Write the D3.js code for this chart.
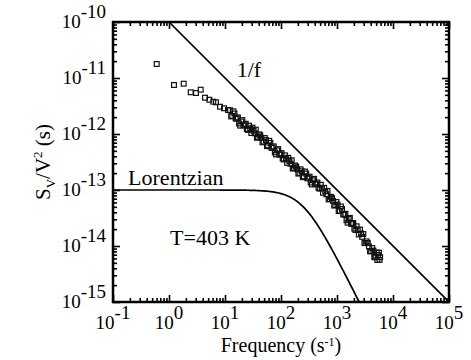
<!DOCTYPE html>
<html>
<head>
<meta charset="utf-8">
<script src="https://cdn.jsdelivr.net/npm/d3@7"></script>
<style>
  body { margin: 0; background: #fff; }
</style>
</head>
<body>
<div id="chart"></div>
<script>
const freqExp = [
  // sparse low-frequency points
  -0.22, 0.089, 0.262, 0.388, 0.482, 0.566, 0.643, 0.72, 0.791, 0.839,
  0.911, 0.982, 1.054,
  // dense trail, first sweep
  1.09, 1.13, 1.17, 1.21, 1.25, 1.29, 1.33, 1.37, 1.41, 1.45,
  1.49, 1.53, 1.57, 1.61, 1.65, 1.69, 1.73, 1.77, 1.81, 1.85,
  1.89, 1.93, 1.97, 2.01, 2.05, 2.09, 2.13, 2.17, 2.21, 2.25,
  2.29, 2.33, 2.37, 2.41, 2.45, 2.49, 2.53, 2.57, 2.61, 2.65,
  2.69, 2.73, 2.77, 2.81, 2.85, 2.89, 2.93, 2.97, 3.01, 3.05,
  3.09, 3.13, 3.17, 3.21, 3.25, 3.29, 3.33, 3.37, 3.41, 3.45,
  3.49, 3.53, 3.57, 3.61, 3.65, 3.69, 3.73, 3.76,
  3.72, 3.75, 3.67, 3.77,
  // dense trail, second sweep
  1.11, 1.15, 1.19, 1.23, 1.27, 1.31, 1.35, 1.39, 1.43, 1.47,
  1.51, 1.55, 1.59, 1.63, 1.67, 1.71, 1.75, 1.79, 1.83, 1.87,
  1.91, 1.95, 1.99, 2.03, 2.07, 2.11, 2.15, 2.19, 2.23, 2.27,
  2.31, 2.35, 2.39, 2.43, 2.47, 2.51, 2.55, 2.59, 2.63, 2.67,
  2.71, 2.75, 2.79, 2.83, 2.87, 2.91, 2.95, 2.99, 3.03, 3.07,
  3.11, 3.15, 3.19, 3.23, 3.27, 3.31, 3.35, 3.39, 3.43, 3.47,
  3.51, 3.55, 3.59, 3.63, 3.67, 3.71
];
const psdExp = [
  -10.75, -11.125, -11.102, -11.255, -11.268, -11.209, -11.352, -11.388, -11.423, -11.434,
  -11.513, -11.541, -11.571,
  -11.576, -11.675, -11.634, -11.723, -11.812, -11.777, -11.847, -11.817, -11.927, -11.907,
  -11.887, -11.987, -12.067, -12.007, -12.070, -12.135, -12.109, -12.204, -12.159, -12.244,
  -12.328, -12.292, -12.367, -12.341, -12.455, -12.439, -12.425, -12.531, -12.617, -12.563,
  -12.629, -12.695, -12.666, -12.756, -12.706, -12.786, -12.866, -12.826, -12.896, -12.866,
  -12.976, -12.968, -12.961, -13.075, -13.168, -13.122, -13.195, -13.270, -13.260, -13.370,
  -13.340, -13.440, -13.540, -13.516, -13.602, -13.588, -13.714, -13.711, -13.707, -13.837,
  -13.947, -13.917, -14.007, -14.092, -14.082, -14.191, -14.161, -14.248,
  -14.25, -14.12, -14.2, -14.2,
  -11.686, -11.595, -11.724, -11.703, -11.850, -11.752, -11.842, -11.912, -11.852, -11.982,
  -11.942, -11.922, -12.052, -12.024, -12.148, -12.072, -12.217, -12.122, -12.247, -12.221,
  -12.365, -12.270, -12.364, -12.438, -12.382, -12.517, -12.483, -12.469, -12.605, -12.581,
  -12.707, -12.631, -12.771, -12.671, -12.791, -12.761, -12.901, -12.801, -12.891, -12.961,
  -12.907, -13.050, -13.023, -13.017, -13.160, -13.144, -13.278, -13.215, -13.375, -13.295,
  -13.435, -13.425, -13.583, -13.499, -13.605, -13.691, -13.648, -13.794, -13.777, -13.787,
  -13.947, -13.947, -14.095, -14.037, -14.197, -14.116
];

const xTickExp = [-1, 0, 1, 2, 3, 4, 5];
const yTickExp = [-10, -11, -12, -13, -14, -15];

// guide lines
const oneOverF = [[1, 1e-10], [1e5, 1e-15]];
const lorentzPlateau = 1e-13;
const lorentzCorner = 250;

const fontFamily = '"Liberation Serif", "DejaVu Serif", "Times New Roman", serif';
const width = 471, height = 360;
const margins = { top: 22, right: 22, bottom: 58, left: 113 };
const innerW = width - margins.left - margins.right;
const innerH = height - margins.top - margins.bottom;

const svg = d3.select("#chart")
  .append("svg")
  .attr("width", width)
  .attr("height", height)
  .style("font-family", fontFamily)
  .append("g")
  .attr("transform", `translate(${margins.left}, ${margins.top})`);

const x = d3.scaleLog().domain([1e-1, 1e5]).range([0, innerW]);
const y = d3.scaleLog().domain([1e-15, 1e-10]).range([innerH, 0]);

svg.append("clipPath")
  .attr("id", "plotClip")
  .append("rect")
  .attr("width", innerW)
  .attr("height", innerH);

// ticks on all four sides, pointing inward
const isMajor = t => Math.abs(Math.log10(t) - Math.round(Math.log10(t))) < 1e-6;
const xMajor = x.ticks().filter(isMajor), xMinor = x.ticks().filter(t => !isMajor(t));
const yMajor = y.ticks().filter(isMajor), yMinor = y.ticks().filter(t => !isMajor(t));

function addAxis(axis, values, size, transform) {
  const g = svg.append("g")
    .attr("transform", transform)
    .call(axis.tickValues(values).tickSizeInner(size).tickSizeOuter(0).tickFormat(""));
  g.select(".domain").remove();
  g.selectAll("line").attr("stroke", "#000").attr("stroke-width", 1.6);
}
addAxis(d3.axisBottom(x), xMajor, -7, `translate(0, ${innerH})`);
addAxis(d3.axisBottom(x), xMinor, -4, `translate(0, ${innerH})`);
addAxis(d3.axisTop(x), xMajor, -7, "translate(0, 0)");
addAxis(d3.axisTop(x), xMinor, -4, "translate(0, 0)");
addAxis(d3.axisLeft(y), yMajor, -7, "translate(0, 0)");
addAxis(d3.axisLeft(y), yMinor, -4, "translate(0, 0)");
addAxis(d3.axisRight(y), yMajor, -7, `translate(${innerW}, 0)`);
addAxis(d3.axisRight(y), yMinor, -4, `translate(${innerW}, 0)`);

svg.append("rect")
  .attr("width", innerW)
  .attr("height", innerH)
  .attr("fill", "none")
  .attr("stroke", "#000")
  .attr("stroke-width", 2.5);

// tick labels
xTickExp.forEach(e => {
  const t = svg.append("text")
    .attr("x", x(Math.pow(10, e)))
    .attr("y", innerH + 27)
    .attr("text-anchor", "middle")
    .style("font-size", "19px");
  t.append("tspan").text("10");
  t.append("tspan").attr("dy", -10).text(e);
});

yTickExp.forEach(e => {
  const t = svg.append("text")
    .attr("x", -7)
    .attr("y", y(Math.pow(10, e)) + 6)
    .attr("text-anchor", "end")
    .style("font-size", "19px");
  t.append("tspan").text("10");
  t.append("tspan").attr("dy", -10).text(e);
});

// axis titles
const xTitle = svg.append("text")
  .attr("x", innerW / 2)
  .attr("y", innerH + 50)
  .attr("text-anchor", "middle")
  .style("font-size", "20px");
xTitle.append("tspan").text("Frequency (s");
xTitle.append("tspan").attr("dy", -6).style("font-size", "12px").text("-1");
xTitle.append("tspan").attr("dy", 6).text(")");

const yTitle = svg.append("text")
  .attr("transform", `translate(-63, ${innerH / 2}) rotate(-90)`)
  .attr("text-anchor", "middle")
  .style("font-size", "21px");
yTitle.append("tspan").text("S");
yTitle.append("tspan").attr("dy", 5).style("font-size", "13px").text("V");
yTitle.append("tspan").attr("dy", -5).text("/V");
yTitle.append("tspan").attr("dy", -8).style("font-size", "13px").text("2");
yTitle.append("tspan").attr("dy", 8).text(" (s)");

// guide lines
const plot = svg.append("g").attr("clip-path", "url(#plotClip)");
const line = d3.line().x(d => x(d[0])).y(d => y(d[1]));

plot.append("path")
  .attr("d", line(oneOverF))
  .attr("fill", "none")
  .attr("stroke", "#000")
  .attr("stroke-width", 1.7);

const lorentz = d3.range(-1, 5.001, 0.02).map(e => {
  const f = Math.pow(10, e);
  return [f, lorentzPlateau / (1 + (f / lorentzCorner) ** 2)];
}).filter(d => d[1] > 5e-16);

plot.append("path")
  .attr("d", line(lorentz))
  .attr("fill", "none")
  .attr("stroke", "#000")
  .attr("stroke-width", 1.7);

// data points
const points = freqExp.map((e, i) => [Math.pow(10, e), Math.pow(10, psdExp[i])]);
plot.selectAll(".pt")
  .data(points)
  .enter()
  .append("rect")
  .attr("class", "pt")
  .attr("x", d => x(d[0]) - 2.4)
  .attr("y", d => y(d[1]) - 2.4)
  .attr("width", 4.8)
  .attr("height", 4.8)
  .attr("fill", "none")
  .attr("stroke", "#111")
  .attr("stroke-width", 1.2);

// annotations
const notes = [
  { text: "1/f", f: Math.pow(10, 1.21), s: Math.pow(10, -10.98) },
  { text: "Lorentzian", f: Math.pow(10, -0.73), s: Math.pow(10, -12.91) },
  { text: "T=403 K", f: Math.pow(10, 0.02), s: Math.pow(10, -13.98) }
];
svg.selectAll(".note")
  .data(notes)
  .enter()
  .append("text")
  .attr("class", "note")
  .attr("x", d => x(d.f))
  .attr("y", d => y(d.s))
  .style("font-size", "22px")
  .text(d => d.text);
</script>
</body>
</html>
